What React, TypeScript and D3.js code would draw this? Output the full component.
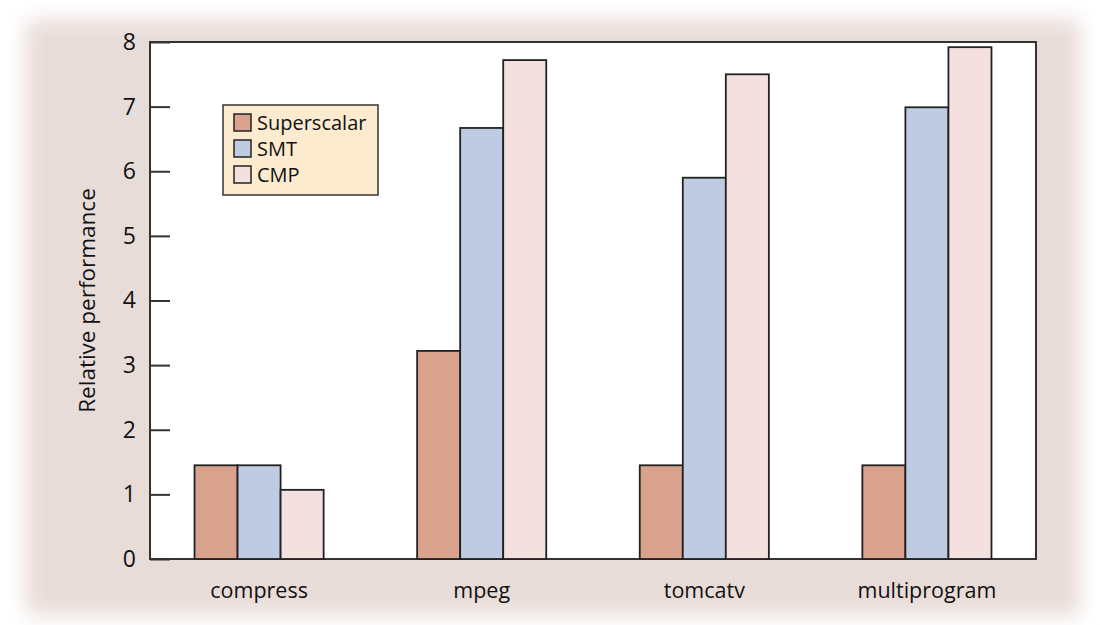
import { useEffect, useRef } from "react";
import * as d3 from "d3";

const categories = ["compress", "mpeg", "tomcatv", "multiprogram"];
const seriesNames = ["Superscalar", "SMT", "CMP"];
const superscalar = [1.45, 3.22, 1.45, 1.45];
const smt = [1.45, 6.67, 5.9, 6.99];
const cmp = [1.07, 7.72, 7.5, 7.92];
const yTicks = [0, 1, 2, 3, 4, 5, 6, 7, 8];
const colors = ["#d9a28d", "#bfcbe3", "#f4e0de"];

const W = 1100;
const H = 625;

const App = () => {
  const ref = useRef<SVGSVGElement | null>(null);

  useEffect(() => {
    document.body.style.margin = "0";
    const svg = d3.select(ref.current);
    svg.selectAll("*").remove();

    const margin = { top: 42, right: 64, bottom: 66, left: 150 };
    const font = "'Open Sans', 'Noto Sans', sans-serif";

    // textured card background with soft white edges
    const defs = svg.append("defs");
    defs
      .append("filter")
      .attr("id", "soft")
      .attr("x", "-5%")
      .attr("y", "-5%")
      .attr("width", "110%")
      .attr("height", "110%")
      .append("feGaussianBlur")
      .attr("stdDeviation", 10);
    svg.append("rect").attr("width", W).attr("height", H).attr("fill", "#fff");
    svg
      .append("rect")
      .attr("x", 26)
      .attr("y", 20)
      .attr("width", W - 46)
      .attr("height", H - 30)
      .attr("fill", "#e8dcd8")
      .attr("filter", "url(#soft)");

    const x = d3
      .scaleBand<string>()
      .domain(categories)
      .range([margin.left, W - margin.right])
      .paddingInner(0.42)
      .paddingOuter(0.2);
    const xs = d3
      .scaleBand<string>()
      .domain(seriesNames)
      .range([0, x.bandwidth()]);
    const y = d3
      .scaleLinear()
      .domain([0, 8])
      .range([H - margin.bottom, margin.top]);

    // plot area
    svg
      .append("rect")
      .attr("x", margin.left)
      .attr("y", margin.top)
      .attr("width", W - margin.right - margin.left)
      .attr("height", H - margin.bottom - margin.top)
      .attr("fill", "#fff")
      .attr("stroke", "#333")
      .attr("stroke-width", 2);

    const data = categories.map((c, i) => ({
      c,
      vals: [superscalar[i], smt[i], cmp[i]],
    }));

    svg
      .append("g")
      .selectAll("g")
      .data(data)
      .join("g")
      .attr("transform", (d) => `translate(${x(d.c)},0)`)
      .selectAll("rect")
      .data((d) => d.vals.map((v, j) => ({ v, s: seriesNames[j], j })))
      .join("rect")
      .attr("x", (d) => xs(d.s)!)
      .attr("y", (d) => y(d.v))
      .attr("width", xs.bandwidth())
      .attr("height", (d) => y(0) - y(d.v))
      .attr("fill", (d) => colors[d.j])
      .attr("stroke", "#222")
      .attr("stroke-width", 1.8);

    // y axis
    const ya = svg.append("g").attr("transform", `translate(${margin.left},0)`);
    ya.call(
      d3
        .axisLeft(y)
        .tickValues(yTicks)
        .tickSize(-20)
        .tickPadding(14)
        .tickFormat(d3.format("d"))
    );
    ya.select(".domain").remove();
    ya.selectAll("line").attr("stroke", "#333").attr("stroke-width", 2);
    ya.selectAll("text")
      .attr("font-size", 23)
      .attr("font-family", font)
      .attr("fill", "#111");

    // x labels
    svg
      .append("g")
      .selectAll("text")
      .data(categories)
      .join("text")
      .attr("x", (d) => x(d)! + x.bandwidth() / 2)
      .attr("y", H - 27)
      .attr("text-anchor", "middle")
      .attr("font-size", 21.5)
      .attr("font-family", font)
      .attr("fill", "#111")
      .text((d) => d);

    svg
      .append("text")
      .attr("transform", `translate(95,${(margin.top + H - margin.bottom) / 2}) rotate(-90)`)
      .attr("text-anchor", "middle")
      .attr("font-size", 22.5)
      .attr("font-family", font)
      .attr("fill", "#111")
      .text("Relative performance");

    // legend
    const lg = svg.append("g").attr("transform", "translate(223,105)");
    lg.append("rect")
      .attr("width", 155)
      .attr("height", 90)
      .attr("fill", "#fdebd0")
      .attr("stroke", "#333")
      .attr("stroke-width", 1.5);
    const item = lg
      .selectAll("g")
      .data(seriesNames)
      .join("g")
      .attr("transform", (_, i) => `translate(11,${9 + i * 26})`);
    item
      .append("rect")
      .attr("width", 17)
      .attr("height", 17)
      .attr("fill", (_, i) => colors[i])
      .attr("stroke", "#222")
      .attr("stroke-width", 1.5);
    item
      .append("text")
      .attr("x", 23)
      .attr("y", 16)
      .attr("font-size", 20)
      .attr("font-family", font)
      .attr("fill", "#111")
      .text((d) => d);
  }, []);

  return <svg ref={ref} width={W} height={H} style={{ display: "block" }} />;
};

export default App;
